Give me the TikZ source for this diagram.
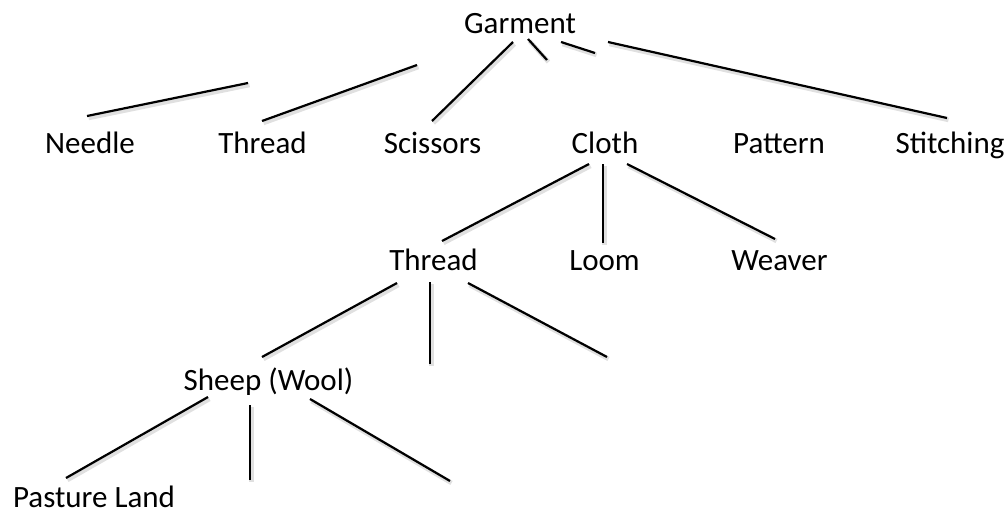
\documentclass[tikz,border=0pt]{standalone}
\usepackage{fontspec}
\setmainfont{Carlito}
\begin{document}
\begin{tikzpicture}[x=1pt,y=-1pt,
  label/.style={anchor=base,inner sep=0pt,font=\fontsize{31}{31}\selectfont},
  link/.style={line width=2.2pt,black,
    preaction={draw=black,opacity=0.12,line width=4.5pt,
      transform canvas={shift={(1.5pt,-2pt)}}}}]
\useasboundingbox[fill=white] (0,0) rectangle (1008,512);

% labels
\node[label] (garment) at (520,33) {Garment};
\node[label] (needle) at (90,153) {Needle};
\node[label] (threadA) at (262.5,153) {Thread};
\node[label] (scissors) at (432.5,153) {Scissors};
\node[label] (cloth) at (605,153) {Cloth};
\node[label] (pattern) at (779,153) {Pattern};
\node[label] (stitching) at (950,153) {Stitching};
\node[label] (threadB) at (433.5,270) {Thread};
\node[label] (loom) at (604.5,270) {Loom};
\node[label] (weaver) at (779.5,270) {Weaver};
\node[label] (sheep) at (268.5,390) {Sheep (Wool)};
\node[label] (pasture) at (94,507) {Pasture Land};

% connector end points
\coordinate (gN1) at (248,83);  \coordinate (gN2) at (87,116);
\coordinate (gT1) at (417,65);  \coordinate (gT2) at (262,121);
\coordinate (gS1) at (513,42);  \coordinate (gS2) at (432,121);
\coordinate (gC1) at (528,39);  \coordinate (gC2) at (547,60);
\coordinate (gP1) at (561,42);  \coordinate (gP2) at (595,53);
\coordinate (gX1) at (608,42);  \coordinate (gX2) at (947,118);
\coordinate (cT1) at (589,164); \coordinate (cT2) at (442,241);
\coordinate (cL1) at (603,164); \coordinate (cL2) at (603,243);
\coordinate (cW1) at (627,164); \coordinate (cW2) at (775,239);
\coordinate (tS1) at (397,283); \coordinate (tS2) at (262,357);
\coordinate (tM1) at (430,282); \coordinate (tM2) at (430,364);
\coordinate (tR1) at (468,283); \coordinate (tR2) at (607,357);
\coordinate (sP1) at (208,397); \coordinate (sP2) at (66,478);
\coordinate (sM1) at (250,405); \coordinate (sM2) at (250,480);
\coordinate (sR1) at (310,399); \coordinate (sR2) at (450,481);

% connectors
\draw[link] (gN1) -- (gN2);
\draw[link] (gT1) -- (gT2);
\draw[link] (gS1) -- (gS2);
\draw[link] (gC1) -- (gC2);
\draw[link] (gP1) -- (gP2);
\draw[link] (gX1) -- (gX2);
\draw[link] (cT1) -- (cT2);
\draw[link] (cL1) -- (cL2);
\draw[link] (cW1) -- (cW2);
\draw[link] (tS1) -- (tS2);
\draw[link] (tM1) -- (tM2);
\draw[link] (tR1) -- (tR2);
\draw[link] (sP1) -- (sP2);
\draw[link] (sM1) -- (sM2);
\draw[link] (sR1) -- (sR2);
\end{tikzpicture}
\end{document}
